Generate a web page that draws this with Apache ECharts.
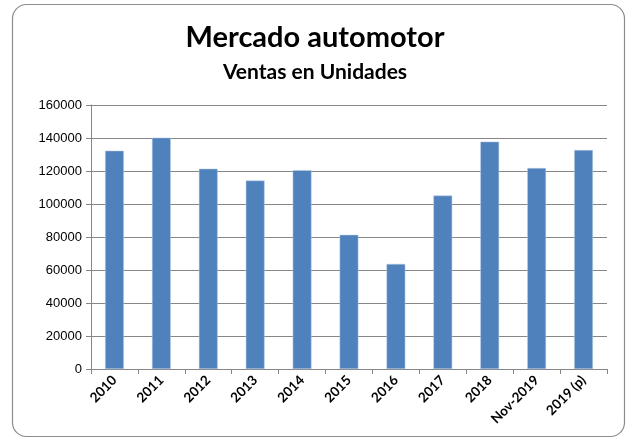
<!DOCTYPE html>
<html><head><meta charset="utf-8">
<script src="https://cdn.jsdelivr.net/npm/echarts@6/dist/echarts.min.js"></script>
<style>html,body{margin:0;padding:0;background:#fff}#c{width:630px;height:441px}</style>
</head><body><div id="c"></div>
<script>
const categories = ['2010','2011','2012','2013','2014','2015','2016','2017','2018','Nov-2019','2019 (p)'];
const ventas = [132300, 140200, 121400, 114200, 120500, 81300, 63700, 105100, 137800, 121800, 132700];
const titleText = 'Mercado automotor';
const subtitleText = 'Ventas en Unidades';

const chart = echarts.init(document.getElementById('c'), null, {renderer:'canvas'});
chart.setOption({
  animation:false,
  backgroundColor:'#fff',
  graphic:[{type:'rect', shape:{x:12.5,y:4.5,width:612,height:432,r:14}, style:{fill:'none',stroke:'#8c8c8c',lineWidth:1.2}, silent:true, z:-1}],
  title:{text:titleText, subtext:subtitleText, left:'center', top:18, itemGap:10,
    textStyle:{fontFamily:'Lato', fontWeight:'bold', fontSize:29, color:'#000'},
    subtextStyle:{fontFamily:'Lato', fontWeight:'bold', fontSize:21, color:'#000'}},
  grid:{left:91, right:23, top:105, bottom:72, containLabel:false},
  xAxis:{type:'category', data:categories,
    axisLine:{lineStyle:{color:'#868686', width:1}},
    axisTick:{show:true, alignWithLabel:false, length:5, lineStyle:{color:'#868686'}},
    axisLabel:{rotate:45, interval:0, fontFamily:'Lato', fontWeight:'bold', fontSize:13.5, color:'#000', margin:9}},
  yAxis:{type:'value', min:0, max:160000, interval:20000,
    axisLine:{show:true, lineStyle:{color:'#868686'}},
    axisTick:{show:true, length:5, lineStyle:{color:'#868686'}},
    splitLine:{lineStyle:{color:'#868686', width:1}},
    axisLabel:{fontFamily:'Liberation Sans', fontSize:13, color:'#000', margin:9, formatter:v=>String(v)}},
  series:[{type:'bar', data:ventas, barWidth:'40%', itemStyle:{color:'#4F81BD', borderColor:'#b9cce4', borderWidth:0.5}}]
});
</script></body></html>
